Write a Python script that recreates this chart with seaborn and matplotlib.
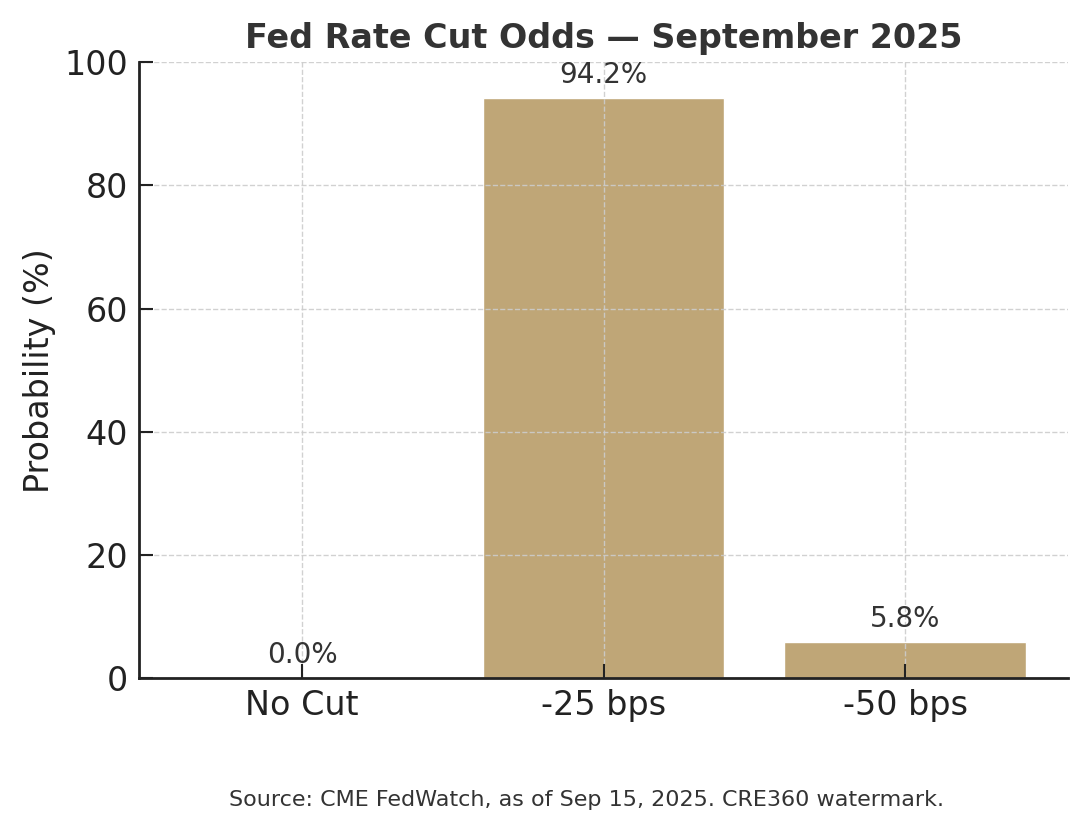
import pandas as pd
import matplotlib
matplotlib.use("Agg")
import matplotlib.pyplot as plt
import seaborn as sns

outcomes = ["No Cut", "-25 bps", "-50 bps"]
probabilities = [0.0, 94.2, 5.8]

df = pd.DataFrame({"Outcome": outcomes, "Probability": probabilities})

sns.set_style("white")
plt.rcParams['font.family'] = ['DejaVu Sans']

fig = plt.figure(figsize=(10.87, 8.3), dpi=100)
ax = fig.add_axes([0.128, 0.183, 0.8545, 0.742])

sns.barplot(x="Outcome", y="Probability", data=df, color="#BFA677",
            saturation=1, width=0.8, ax=ax)

# labels above bars
for i, v in enumerate(probabilities):
    ax.text(i, v + 1.5, f"{v:.1f}%", ha="center", va="bottom",
            fontsize=20, color="#333333")

ax.set_xlim(-0.54, 2.54)
ax.set_ylim(0, 100)
ax.set_title("Fed Rate Cut Odds — September 2025", fontsize=24,
             fontweight="bold", color="#333333", pad=10)
ax.set_xlabel("")
ax.set_ylabel("Probability (%)", fontsize=24, color="#222222", labelpad=6)
ax.tick_params(axis="both", direction="in", labelsize=24, length=10,
               width=1.5, colors="#222222", pad=8, bottom=True, left=True)

ax.set_axisbelow(False)
ax.grid(True, linestyle="--", color="#cccccc", linewidth=1, alpha=0.9)
sns.despine(ax=ax)
for s in ["left", "bottom"]:
    ax.spines[s].set_linewidth(2)
    ax.spines[s].set_color("#222222")
    ax.spines[s].set_zorder(5)

fig.text(0.54, 0.036, "Source: CME FedWatch, as of Sep 15, 2025. CRE360 watermark.",
         ha="center", va="center", fontsize=16, color="#333333")

plt.savefig("out.png", dpi=100)
